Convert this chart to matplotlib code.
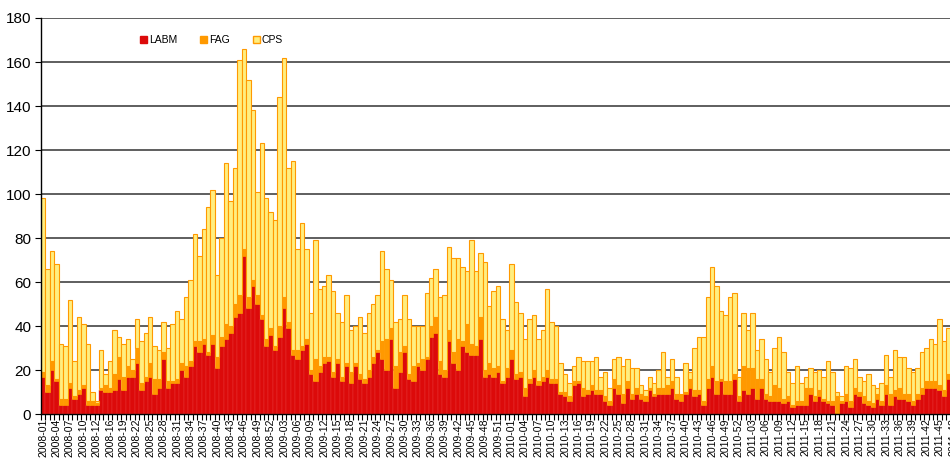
import numpy as np
import matplotlib

matplotlib.use("Agg")
import matplotlib.pyplot as plt
from matplotlib.patches import Patch

plt.rcParams["font.family"] = ["Liberation Sans", "DejaVu Sans"]

# weekly counts, 2008-01 onwards (one value per week)
labm = [17, 10, 20, 15, 4, 4, 12, 7, 9, 12,
        4, 4, 4, 11, 10, 10, 11, 16, 11, 17,
        17, 23, 11, 15, 17, 9, 12, 25, 12, 14,
        14, 20, 17, 22, 31, 28, 32, 27, 32, 21,
        31, 34, 37, 44, 46, 72, 48, 58, 50, 43,
        31, 36, 29, 35, 48, 39, 27, 25, 29, 32,
        18, 15, 19, 23, 24, 17, 23, 15, 22, 14,
        22, 16, 14, 17, 23, 28, 25, 20, 34, 12,
        19, 28, 16, 15, 22, 20, 25, 35, 37, 18,
        17, 33, 23, 20, 31, 28, 27, 27, 34, 17,
        18, 17, 19, 14, 17, 25, 16, 17, 8, 14,
        17, 13, 15, 17, 14, 14, 9, 8, 6, 13,
        14, 8, 9, 11, 9, 9, 6, 4, 12, 9,
        5, 12, 7, 9, 7, 6, 11, 8, 9, 9,
        9, 12, 7, 6, 9, 12, 8, 9, 4, 12,
        17, 9, 15, 9, 9, 16, 6, 11, 9, 12,
        7, 12, 7, 6, 6, 6, 5, 6, 3, 4,
        4, 4, 9, 6, 8, 6, 5, 4, 0, 5,
        6, 3, 9, 8, 5, 4, 3, 7, 4, 9,
        4, 8, 7, 7, 6, 4, 7, 9, 12, 12,
        12, 11, 8, 16]
fag = [2, 3, 4, 1, 3, 3, 2, 1, 2, 1,
       2, 2, 1, 1, 3, 2, 7, 10, 6, 5,
       3, 7, 3, 2, 6, 7, 4, 3, 3, 1,
       2, 3, 5, 2, 2, 5, 2, 1, 4, 5,
       4, 7, 3, 6, 8, 3, 5, 3, 4, 2,
       3, 3, 2, 5, 5, 3, 2, 4, 2, 2,
       2, 10, 3, 3, 2, 2, 2, 2, 1, 5,
       1, 2, 2, 3, 3, 1, 8, 14, 5, 10,
       9, 3, 2, 7, 1, 5, 1, 5, 7, 6,
       3, 5, 5, 14, 2, 13, 5, 4, 10, 3,
       5, 4, 3, 1, 4, 4, 2, 2, 4, 2,
       3, 2, 2, 3, 2, 2, 1, 2, 2, 2,
       1, 4, 2, 2, 2, 2, 2, 2, 4, 4,
       4, 3, 2, 3, 2, 2, 1, 1, 3, 3,
       4, 3, 2, 3, 1, 4, 3, 2, 2, 4,
       5, 6, 1, 6, 6, 2, 2, 11, 12, 9,
       9, 4, 2, 2, 7, 6, 2, 2, 1, 2,
       2, 8, 3, 2, 3, 1, 1, 2, 8, 1,
       3, 3, 3, 2, 3, 2, 2, 2, 2, 4,
       5, 3, 5, 2, 3, 2, 2, 3, 3, 3,
       3, 2, 3, 2]
cps = [79, 53, 50, 52, 25, 24, 38, 16, 33, 28,
       26, 4, 1, 17, 5, 12, 20, 9, 15, 12,
       5, 13, 19, 20, 21, 15, 13, 14, 15, 26,
       31, 20, 31, 37, 49, 39, 50, 66, 66, 37,
       45, 73, 57, 62, 107, 91, 99, 77, 47, 78,
       64, 53, 57, 104, 109, 70, 86, 46, 56, 41,
       26, 54, 35, 32, 37, 37, 21, 25, 31, 19,
       17, 26, 21, 26, 24, 25, 41, 32, 22, 20,
       15, 23, 25, 18, 17, 15, 29, 22, 22, 29,
       34, 38, 43, 37, 34, 24, 47, 34, 29, 49,
       26, 35, 36, 28, 17, 39, 33, 27, 22, 27,
       25, 19, 21, 37, 26, 24, 13, 8, 6, 7,
       11, 12, 13, 11, 15, 6, 11, 6, 9, 13,
       13, 10, 12, 9, 4, 3, 5, 5, 8, 16,
       4, 10, 8, 0, 13, 3, 19, 24, 29, 37,
       45, 43, 31, 30, 38, 37, 9, 24, 17, 25,
       13, 18, 16, 11, 17, 23, 21, 11, 10, 16,
       8, 5, 9, 11, 9, 10, 18, 13, 2, 2,
       13, 15, 13, 7, 7, 12, 8, 3, 8, 14,
       8, 18, 14, 17, 12, 13, 12, 16, 15, 19,
       17, 30, 22, 21]

# category labels shown under every third bar
week_labels = (
    ["2008-" + w for w in ["01", "04", "07", "10", "12", "16", "19", "22", "25",
                           "28", "31", "34", "37", "40", "43", "46", "49", "52"]]
    + ["2009-" + w for w in ["03", "06", "09", "12", "15", "18", "21", "24", "27",
                             "30", "33", "36", "39", "42", "45", "48", "51"]]
    + ["2010-" + w for w in ["01", "04", "07", "10", "13", "16", "19", "22", "25",
                             "28", "31", "34", "37", "40", "43", "46", "49", "52"]]
    + ["2011-" + w for w in ["03", "06", "09", "12", "15", "18", "21", "24", "27",
                             "30", "33", "36", "39", "42", "45", "48"]]
)

RED = "#dc0a0a"
ORANGE = "#ff9900"
YELLOW = "#ffee80"

labm = np.array(labm)
fag = np.array(fag)
cps = np.array(cps)
x = np.arange(len(labm))

fig = plt.figure(figsize=(9.5, 4.59), dpi=100)
n_slots = 206
ax = fig.add_axes([41 / 950, 45 / 459, n_slots * 4.46 / 950, 396 / 459])

ax.bar(x, labm, width=1.0, color=RED, edgecolor="#e83a3a", linewidth=0.3)
ax.bar(x, fag, bottom=labm, width=1.0, color=ORANGE, edgecolor=ORANGE, linewidth=0.5)
ax.bar(x, cps, bottom=labm + fag, width=1.0, color=YELLOW, edgecolor=ORANGE, linewidth=0.8)

ax.set_xlim(-0.5, n_slots - 0.5)
ax.set_ylim(0, 180)
ax.set_yticks(range(0, 181, 20))
ax.yaxis.grid(True, color="#333333", linewidth=1.1)
ax.set_axisbelow(True)

ax.set_xticks(np.arange(0, 3 * len(week_labels), 3))
ax.set_xticklabels(week_labels, rotation=90, fontsize=7.6)
ax.set_xticks(np.arange(-0.5, n_slots, 1), minor=True)
ax.tick_params(axis="x", which="major", length=0, pad=3)
ax.tick_params(axis="x", which="minor", length=4, width=0.8, direction="out")
ax.tick_params(axis="y", length=4, width=0.8, labelsize=11, pad=3)

for side in ("top", "right"):
    ax.spines[side].set_visible(False)
for side in ("left", "bottom"):
    ax.spines[side].set_linewidth(1.0)
    ax.spines[side].set_color("black")

handles = [Patch(facecolor=RED, edgecolor=RED),
           Patch(facecolor=ORANGE, edgecolor=ORANGE),
           Patch(facecolor=YELLOW, edgecolor=ORANGE, linewidth=1.0)]
fig.legend(handles, ["LABM", "FAG", "CPS"], loc="center left",
           bbox_to_anchor=(0.143, 0.913), ncol=3, frameon=False, fontsize=7.5,
           handlelength=0.7, handleheight=0.7, handletextpad=0.15,
           columnspacing=2.2, borderaxespad=0)

fig.savefig("out.png", dpi=100)
